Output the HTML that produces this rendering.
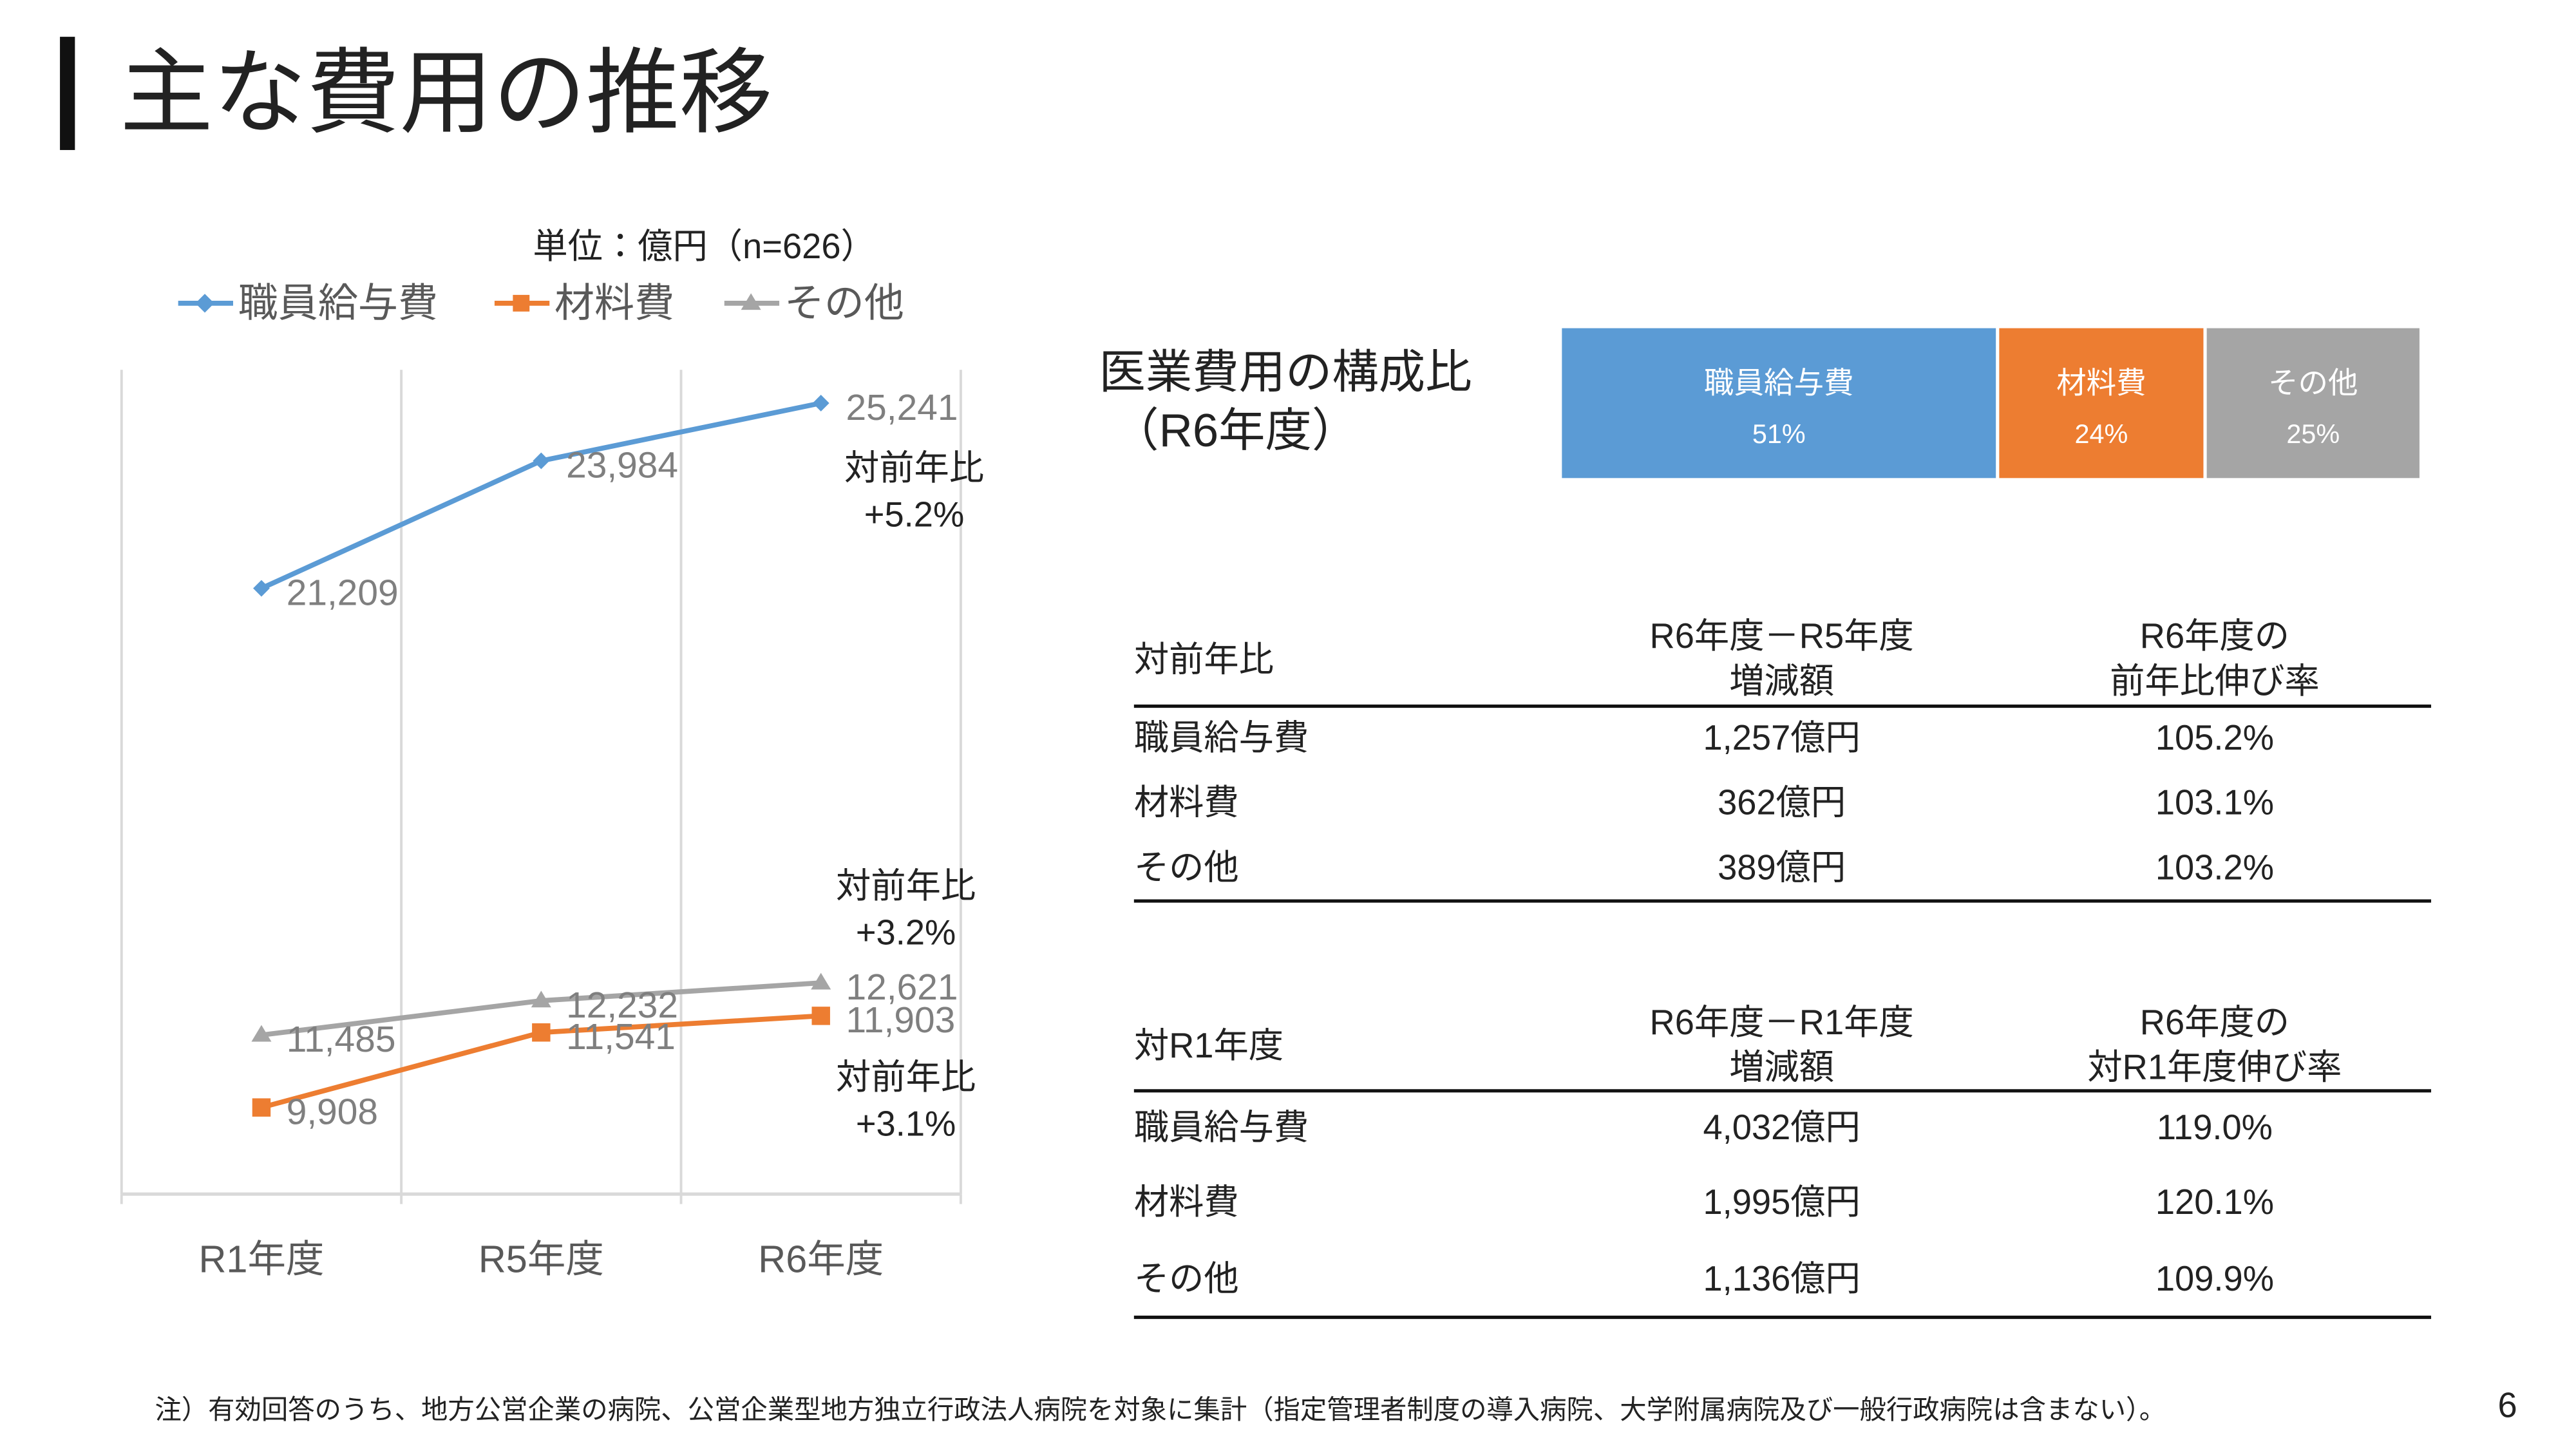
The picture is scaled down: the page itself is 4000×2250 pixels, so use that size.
<!DOCTYPE html>
<html><head><meta charset="utf-8"><style>
html,body{margin:0;padding:0;background:#fff;}
svg{display:block;}
text{font-family:"Liberation Sans","Noto Sans CJK JP",sans-serif;}
</style></head><body>
<svg id="s" width="4000" height="2250" viewBox="0 0 1547 870" xmlns="http://www.w3.org/2000/svg">
<rect x="0" y="0" width="1547" height="870" fill="#fff"/>
<rect x="36" y="22" width="9" height="68" fill="#111"/>
<text x="72" y="75" font-size="56" fill="#222">主な費用の推移</text>

<text x="320" y="155" font-size="21" fill="#222">単位：億円（n=626）</text>
<g>
 <g><line x1="107" y1="182" x2="140" y2="182" stroke="#5b9bd5" stroke-width="3"/><rect x="119" y="178" width="8" height="8" fill="#5b9bd5" transform="rotate(45 123 182)"/><text x="143" y="190" font-size="24" fill="#595959">職員給与費</text></g>
 <g><line x1="297" y1="182" x2="330" y2="182" stroke="#ed7d31" stroke-width="3"/><rect x="308" y="177" width="10" height="10" fill="#ed7d31"/><text x="333" y="190" font-size="24" fill="#595959">材料費</text></g>
 <g><line x1="435" y1="182" x2="468" y2="182" stroke="#a5a5a5" stroke-width="3"/><polygon points="451,176 457,186 445,186" fill="#a5a5a5"/><text x="471" y="190" font-size="24" fill="#595959">その他</text></g>
</g>
<g id="chart"></g>

<text x="660" y="233" font-size="28" fill="#222">医業費用の構成比</text>
<text x="668" y="268" font-size="28" fill="#222">（R6年度）</text>
<g id="comp"></g>

<g font-size="21" fill="#222">
 <text x="681" y="403">対前年比</text>
 <text x="1070" y="389" text-anchor="middle">R6年度－R5年度</text>
 <text x="1070" y="416" text-anchor="middle">増減額</text>
 <text x="1330" y="389" text-anchor="middle">R6年度の</text>
 <text x="1330" y="416" text-anchor="middle">前年比伸び率</text>
 <line x1="681" y1="424" x2="1460" y2="424" stroke="#111" stroke-width="2"/>
 <text x="681" y="450">職員給与費</text><text x="1070" y="450" text-anchor="middle">1,257億円</text><text x="1330" y="450" text-anchor="middle">105.2%</text>
 <text x="681" y="489">材料費</text><text x="1070" y="489" text-anchor="middle">362億円</text><text x="1330" y="489" text-anchor="middle">103.1%</text>
 <text x="681" y="528">その他</text><text x="1070" y="528" text-anchor="middle">389億円</text><text x="1330" y="528" text-anchor="middle">103.2%</text>
 <line x1="681" y1="541" x2="1460" y2="541" stroke="#111" stroke-width="2"/>
</g>
<g font-size="21" fill="#222">
 <text x="681" y="635">対R1年度</text>
 <text x="1070" y="621" text-anchor="middle">R6年度－R1年度</text>
 <text x="1070" y="648" text-anchor="middle">増減額</text>
 <text x="1330" y="621" text-anchor="middle">R6年度の</text>
 <text x="1330" y="648" text-anchor="middle">対R1年度伸び率</text>
 <line x1="681" y1="655" x2="1460" y2="655" stroke="#111" stroke-width="2"/>
 <text x="681" y="684">職員給与費</text><text x="1070" y="684" text-anchor="middle">4,032億円</text><text x="1330" y="684" text-anchor="middle">119.0%</text>
 <text x="681" y="729">材料費</text><text x="1070" y="729" text-anchor="middle">1,995億円</text><text x="1330" y="729" text-anchor="middle">120.1%</text>
 <text x="681" y="775">その他</text><text x="1070" y="775" text-anchor="middle">1,136億円</text><text x="1330" y="775" text-anchor="middle">109.9%</text>
 <line x1="681" y1="791" x2="1460" y2="791" stroke="#111" stroke-width="2"/>
</g>
<text x="93" y="852" font-size="16" fill="#222">注）有効回答のうち、地方公営企業の病院、公営企業型地方独立行政法人病院を対象に集計（指定管理者制度の導入病院、大学附属病院及び一般行政病院は含まない）。</text>
<text x="1500" y="851" font-size="21" fill="#222">6</text>
</svg>
<script>
const categories = ["R1年度","R5年度","R6年度"];
const salary = [21209, 23984, 25241];
const material = [9908, 11541, 11903];
const other = [11485, 12232, 12621];
const yoyNotes = ["対前年比","+5.2%","+3.2%","+3.1%"];
const compLabels = ["職員給与費","材料費","その他"];
const compValues = [51, 24, 25];

const NS = "http://www.w3.org/2000/svg";
function mk(tag, attrs, parent){const e=document.createElementNS(NS,tag);for(const k in attrs)e.setAttribute(k,attrs[k]);parent.appendChild(e);return e;}
const chart = document.getElementById('chart');
const plotL=73, plotR=577, axisY=717;
const yMin=8023, pxPer=0.027588;
function y(v){return axisY-(v-yMin)*pxPer;}
function x(i){return plotL+(plotR-plotL)/categories.length*(i+0.5);}

for(let i=0;i<=categories.length;i++){
  const gx=plotL+(plotR-plotL)/categories.length*i;
  const g=mk('line',{x1:gx,y1:222,x2:gx,y2:axisY,stroke:'#d9d9d9','stroke-width':1.5},chart);
  
  
  const t=mk('line',{x1:gx,y1:axisY,x2:gx,y2:axisY+6,stroke:'#d9d9d9','stroke-width':1.5},chart);
  
  
}
const ax=mk('line',{x1:plotL,y1:axisY,x2:plotR,y2:axisY,stroke:'#d9d9d9','stroke-width':2},chart);


categories.forEach((c,i)=>{
  const t=mk('text',{x:x(i),y:764,'font-size':23,fill:'#595959','text-anchor':'middle'},chart);
  t.textContent=c;
  
  
});
const series=[{d:salary,c:'#5b9bd5',m:'diamond',n:'salary'},{d:other,c:'#a5a5a5',m:'tri',n:'other'},{d:material,c:'#ed7d31',m:'square',n:'material'}];
series.forEach(s=>{
  const pl=mk('polyline',{points:s.d.map((v,i)=>x(i)+','+y(v)).join(' '),fill:'none',stroke:s.c,'stroke-width':3},chart);
  
  
  s.d.forEach((v,i)=>{
    const cx=x(i),cy=y(v);let m;
    if(s.m==='diamond')m=mk('polygon',{points:`${cx},${cy-5} ${cx+5},${cy} ${cx},${cy+5} ${cx-5},${cy}`,fill:s.c},chart);
    else if(s.m==='square')m=mk('rect',{x:cx-5.5,y:cy-5.5,width:11,height:11,fill:s.c},chart);
    else m=mk('polygon',{points:`${cx},${cy-6} ${cx+6},${cy+4} ${cx-6},${cy+4}`,fill:s.c},chart);
    
    
    const lbl=mk('text',{x:cx+15,y:cy+10,'font-size':22,fill:'#7f7f7f'},chart);
    lbl.textContent=v.toLocaleString('en-US');
    
    
  });
});
function note(cx,yTop,pct,name){
  const a=mk('text',{x:cx,y:yTop,'font-size':21,fill:'#222','text-anchor':'middle'},chart);
  a.textContent=yoyNotes[0];
  
  
  const b=mk('text',{x:cx,y:yTop+28,'font-size':21,fill:'#222','text-anchor':'middle'},chart);
  b.textContent=pct;
  
  
}
note(549,288,yoyNotes[1],'yoy-salary');
note(544,539,yoyNotes[2],'yoy-other');
note(544,654,yoyNotes[3],'yoy-material');

const comp=document.getElementById('comp');
const colors=['#5b9bd5','#ed7d31','#a5a5a5'];
const bx0=938,bx1=1453,gap=2,total=compValues.reduce((a,b)=>a+b,0);
let cx=bx0;const avail=bx1-bx0-gap*(compValues.length-1);
compValues.forEach((v,i)=>{
  const w=avail*v/total;
  const r=mk('rect',{x:cx,y:197,width:w,height:90,fill:colors[i]},comp);
  
  
  const t1=mk('text',{x:cx+w/2,y:236,'font-size':18,fill:'#fff','text-anchor':'middle'},comp);
  t1.textContent=compLabels[i];
  
  
  const t2=mk('text',{x:cx+w/2,y:266,'font-size':16,fill:'#fff','text-anchor':'middle'},comp);
  t2.textContent=v+'%';
  
  
  cx+=w+gap;
});
</script>
</body></html>
